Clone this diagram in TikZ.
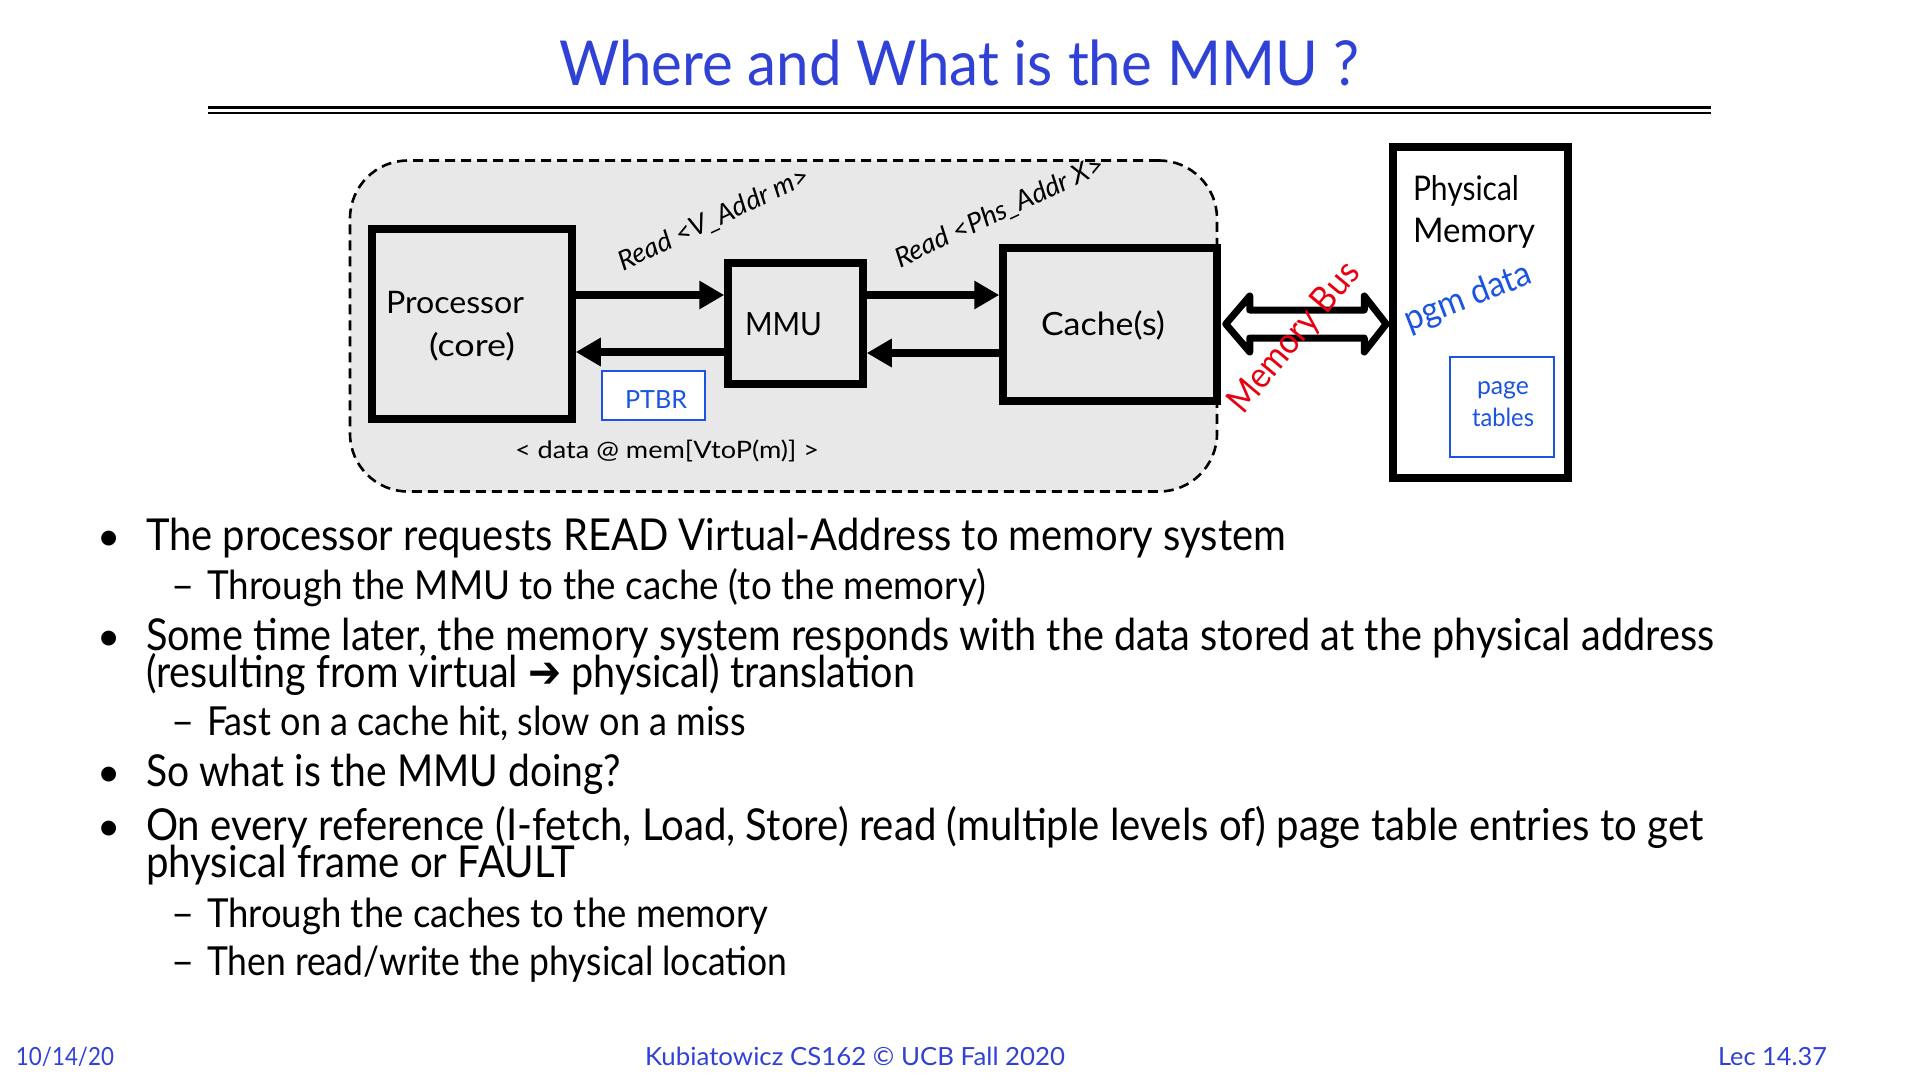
\documentclass[tikz,border=0pt]{standalone}
\usepackage{fontspec}
\usepackage{graphicx}
\setmainfont{Lato}
\newfontfamily\symfont{DejaVu Sans}
\usetikzlibrary{arrows.meta,calc}

\definecolor{titleblue}{RGB}{48,66,214}
\definecolor{boxblue}{RGB}{28,84,226}
\definecolor{busred}{RGB}{232,0,16}
\definecolor{panelgray}{RGB}{232,232,232}

% set a line of text at a given width, keeping its height
\newcommand\fitw[2]{\resizebox{#1pt}{\height}{#2}}
\newcommand\fsz[1]{\fontsize{#1pt}{#1pt}\selectfont}

\tikzset{
  txt/.style={inner sep=0pt, outer sep=0pt},
  heavybox/.style={draw=black, line width=7.5pt, inner sep=0pt, outer sep=3.75pt, fill=panelgray},
  thinbox/.style={draw=boxblue, line width=2.5pt, inner sep=0pt, outer sep=1.25pt, fill=white},
  panelbox/.style={draw=black, line width=2.6pt, dash pattern=on 10pt off 6pt,
                   rounded corners=58pt, fill=panelgray, inner sep=0pt},
  flowarr/.style={line width=8pt, -{Triangle[length=25pt,width=27pt]}},
  busarrow/.style={draw=black, fill=white, line width=7pt, line join=round},
}

\begin{document}
\begin{tikzpicture}[x=1pt,y=-1pt]
\useasboundingbox (0,0) rectangle (1920,1080);
\fill[white] (0,0) rectangle (1920,1080);

% title and rules
\node[txt, anchor=base west, text=titleblue] (title) at (559,85)
  {\fsz{62}\fitw{800}{Where and What is the MMU ?}};
\draw[line width=3pt] (208,107) -- (1711,107);
\draw[line width=1.8pt] (208,112.8) -- (1711,112.8);

% memory system panel
\node[panelbox, minimum width=867pt, minimum height=331pt] (panel) at (783.5,326) {};

% units
\node[heavybox, minimum width=200pt, minimum height=190pt] (proc) at (472,324) {};
\node[heavybox, minimum width=135pt, minimum height=121pt] (mmu) at (795.5,323.5) {};
\node[heavybox, minimum width=214pt, minimum height=153pt] (cache) at (1110,324.5) {};
\node[heavybox, fill=white, minimum width=175pt, minimum height=331pt] (phys) at (1480.5,312.5) {};
\node[thinbox, minimum width=103pt, minimum height=49pt] (ptbr) at (653.5,395.5) {};
\node[thinbox, minimum width=104pt, minimum height=100pt] (ptab) at (1502,407) {};

% unit labels
\node[txt, anchor=base west] (proclbl) at (386,313) {\fsz{31}\fitw{138}{Processor}};
\node[txt, anchor=base west] (corelbl) at (429,356) {\fsz{31}\fitw{86}{(core)}};
\node[txt, anchor=base west] (mmulbl) at (745,335) {\fsz{32}\fitw{77}{MMU}};
\node[txt, anchor=base west] (cachelbl) at (1041,335) {\fsz{32}\fitw{124}{Cache(s)}};
\node[txt, anchor=base west] (physlbl) at (1413,200) {\fsz{34}\fitw{106}{Physical}};
\node[txt, anchor=base west] (memlbl) at (1413,242) {\fsz{34}\fitw{122}{Memory}};
\node[txt, anchor=base, text=boxblue] (ptbrlbl) at (656,408) {\fsz{25}\fitw{62}{PTBR}};
\node[txt, anchor=base, text=boxblue] (pagelbl) at (1503,394) {\fsz{25}\fitw{52}{page}};
\node[txt, anchor=base, text=boxblue] (tablbl) at (1503,426) {\fsz{25}\fitw{62}{tables}};
\node[txt, anchor=base west] (datalbl) at (515,458) {\fsz{24}\fitw{304}{< data @ mem[VtoP(m)] >}};

% request and reply paths
\draw[flowarr] (proc.east |- 0,295) -- (mmu.west |- 0,295);
\draw[flowarr] (mmu.west |- 0,352) -- (proc.east |- 0,352);
\draw[flowarr] (mmu.east |- 0,295) -- (cache.west |- 0,295);
\draw[flowarr] (cache.west |- 0,353) -- (mmu.east |- 0,353);

\node[txt, anchor=base west, rotate=25] (vread) at (623,271)
  {\fsz{27}\itshape\fitw{208}{Read <V\_Addr m>}};
\node[txt, anchor=base west, rotate=25] (pread) at (900,268)
  {\fsz{27}\itshape\fitw{228}{Read <Phs\_Addr X>}};

% memory bus
\coordinate (busL) at (cache.east |- 0,324);
\coordinate (busR) at (phys.west |- 0,324);
\draw[busarrow] ($(busL)+(5,0)$) -- ++(24,-28) -- ++(0,14) -- ($(busR)+(-25,-14)$)
  -- ++(0,-14) -- ($(busR)+(-3,0)$) -- ++(-22,28) -- ++(0,-14)
  -- ($(busL)+(29,14)$) -- ++(0,14) -- cycle;
\node[txt, anchor=base west, rotate=50, text=busred] (buslbl) at (1243,415)
  {\fsz{36}\fitw{184}{Memory Bus}};
\node[txt, anchor=base west, rotate=21, text=boxblue] (pgmlbl) at (1409,331)
  {\fsz{35}\fitw{134}{pgm data}};

% bullet list
\node[txt, anchor=base] (b1) at (109,550) {\fsz{40}•};
\node[txt, anchor=base west] (t1) at (146,550)
  {\fsz{44}\fitw{1140}{The processor requests READ Virtual-Address to memory system}};
\node[txt, anchor=base west] (d2) at (171,599) {\fsz{40}–};
\node[txt, anchor=base west] (t2) at (207,599)
  {\fsz{40}\fitw{779}{Through the MMU to the cache (to the memory)}};
\node[txt, anchor=base] (b3) at (109,650) {\fsz{40}•};
\node[txt, anchor=base west] (t3) at (146,650)
  {\fsz{44}\fitw{1568}{Some time later, the memory system responds with the data stored at the physical address}};
\node[txt, anchor=base west] (t3b) at (146,687)
  {\fsz{44}\fitw{769}{(resulting from virtual {\symfont ➔} physical) translation}};
\node[txt, anchor=base west] (d4) at (171,735) {\fsz{40}–};
\node[txt, anchor=base west] (t4) at (207,735)
  {\fsz{40}\fitw{539}{Fast on a cache hit, slow on a miss}};
\node[txt, anchor=base] (b5) at (109,786) {\fsz{40}•};
\node[txt, anchor=base west] (t5) at (146,786)
  {\fsz{44}\fitw{475}{So what is the MMU doing?}};
\node[txt, anchor=base] (b6) at (109,840) {\fsz{40}•};
\node[txt, anchor=base west] (t6) at (146,840)
  {\fsz{44}\fitw{1557}{On every reference (I-fetch, Load, Store) read (multiple levels of) page table entries to get}};
\node[txt, anchor=base west] (t6b) at (146,877)
  {\fsz{44}\fitw{429}{physical frame or FAULT}};
\node[txt, anchor=base west] (d7) at (171,927) {\fsz{40}–};
\node[txt, anchor=base west] (t7) at (207,927)
  {\fsz{40}\fitw{561}{Through the caches to the memory}};
\node[txt, anchor=base west] (d8) at (171,975) {\fsz{40}–};
\node[txt, anchor=base west] (t8) at (207,975)
  {\fsz{40}\fitw{580}{Then read/write the physical location}};

% footer
\node[txt, anchor=base west, text=titleblue] (fdate) at (16,1065) {\fsz{25}\fitw{98}{10/14/20}};
\node[txt, anchor=base west, text=titleblue] (fcourse) at (645,1065)
  {\fsz{25}\fitw{420}{Kubiatowicz CS162 © UCB Fall 2020}};
\node[txt, anchor=base west, text=titleblue] (flec) at (1718,1065) {\fsz{25}\fitw{109}{Lec 14.37}};
\end{tikzpicture}
\end{document}
